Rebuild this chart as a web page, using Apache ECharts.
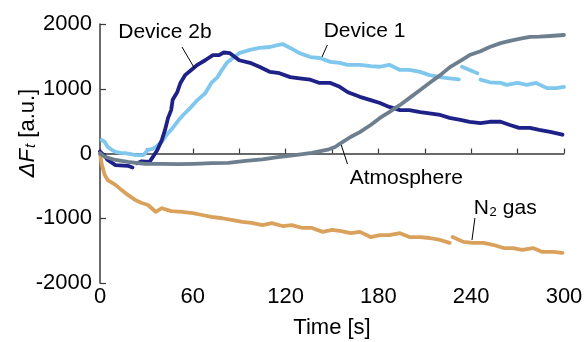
<!DOCTYPE html>
<html>
<head>
<meta charset="utf-8">
<script src="https://cdn.jsdelivr.net/npm/echarts@6/dist/echarts.min.js"></script>
<style>
  html, body { margin: 0; padding: 0; background: #fff; }
  #chart { width: 586px; height: 342px; }
</style>
</head>
<body>
<div id="chart"></div>
<script>
// tick labels
const xTicks = [0, 60, 120, 180, 240, 300]
const yTicks = [-2000, -1000, 0, 1000, 2000]

// [time s, ΔFt]; null breaks the trace
const device1 = [[1, 210], [3, 180], [5, 100], [8, 50], [10, 25], [13, 10], [16, 5], [20, -10], [23, -25], [28, -25],
  [31, 55], [34, 70], [36, 100], [40, 180], [43, 285], [47, 395], [51, 520], [55, 625], [59, 720], [63, 825],
  [68, 930], [72, 1090], [76, 1180], [78, 1260], [82, 1400], [86, 1475], [90, 1550], [97, 1600], [103, 1630],
  [110, 1645], [114, 1670], [118, 1690], [123, 1630], [129, 1550], [136, 1490], [142, 1475], [149, 1415],
  [155, 1400], [160, 1370], [168, 1370], [175, 1350], [181, 1340], [187, 1370], [194, 1290], [200, 1290],
  [207, 1260], [213, 1210], [220, 1180], [226, 1160], [232, 1145], [233, null], [234, 1340], [239, 1290],
  [244, 1240], [245, null], [246, 1140], [252, 1100], [259, 1090], [263, 1060], [270, 1090], [276, 1060],
  [282, 1090], [289, 1010], [295, 1010], [300, 1030]]

const device2b = [[0, 30], [3, -40], [5, -100], [10, -180], [18, -190], [21, -215], [22, null], [24, -150],
  [27, -120], [32, -130], [34, -60], [37, 50], [40, 210], [42, 360], [44, 550], [46, 670], [47, 830], [50, 950],
  [52, 1090], [55, 1210], [59, 1290], [63, 1370], [68, 1440], [73, 1520], [77, 1520], [80, 1560], [84, 1550],
  [90, 1440], [97, 1400], [103, 1340], [110, 1260], [116, 1240], [123, 1180], [129, 1160], [136, 1140],
  [142, 1090], [149, 1090], [155, 1030], [160, 950], [162, 930], [168, 875], [175, 825], [181, 780], [187, 720],
  [194, 670], [200, 670], [207, 640], [213, 620], [220, 595], [226, 550], [233, 520], [239, 490], [246, 470],
  [252, 490], [259, 490], [265, 440], [271, 395], [278, 395], [284, 365], [291, 335], [299, 290]]

const atmosphere = [[0, 0], [3, -50], [10, -100], [18, -130], [29, -160], [40, -160], [50, -165], [61, -160],
  [72, -150], [83, -145], [94, -115], [105, -90], [115, -55], [126, -25], [137, 10], [148, 65], [152, 100],
  [155, 150], [162, 255], [168, 330], [175, 440], [181, 550], [187, 640], [194, 750], [200, 855], [207, 980],
  [213, 1090], [220, 1210], [226, 1330], [233, 1430], [239, 1520], [246, 1580], [252, 1645], [259, 1705],
  [265, 1740], [271, 1770], [278, 1800], [284, 1805], [291, 1815], [300, 1830]]

const n2gas = [[0, 0], [1, -150], [3, -330], [5, -410], [10, -485], [14, -565], [18, -640], [23, -720],
  [27, -765], [31, -795], [36, -900], [40, -845], [46, -890], [53, -900], [60, -920], [66, -950], [72, -980],
  [79, -1000], [85, -1025], [92, -1055], [98, -1070], [105, -1105], [111, -1075], [118, -1120], [124, -1105],
  [131, -1150], [137, -1150], [144, -1210], [150, -1180], [156, -1200], [162, -1230], [168, -1210], [175, -1290],
  [181, -1260], [187, -1260], [194, -1230], [200, -1290], [207, -1290], [213, -1305], [220, -1335], [226, -1380],
  [227, null], [228, -1290], [235, -1365], [241, -1380], [248, -1380], [254, -1410], [261, -1460], [267, -1460],
  [273, -1490], [280, -1460], [286, -1520], [293, -1520], [299, -1535]]

// label text, text centre, leader line ends (data coords)
const labels = [
  {text: 'Device 2b', at: [42, 1880], from: [53, 1645], to: [61, 1320]},
  {text: 'Device 1', at: [171, 1890], from: [147, 1676], to: [143.5, 1490]},
  {text: 'Atmosphere', at: [198, -378], from: [156, 131], to: [160, -162]},
  {text: 'N\u2082 gas', at: [262, -842], from: [242.4, -996], to: [240.5, -1336]}
]

const font = "'Liberation Sans', Arial, sans-serif"
const axisColor = '#3a3a3a'

const traceSeries = (name, data, color) => ({
  name,
  type: 'line',
  data,
  showSymbol: false,
  connectNulls: false,
  animation: false,
  lineStyle: {color, width: 3.8, cap: 'round', join: 'round'}
})

const echart = echarts.init(document.getElementById('chart'), null, {renderer: 'canvas'})
echart.setOption({
  animation: false,
  textStyle: {fontFamily: font},
  grid: {left: 100, right: 22, top: 24, bottom: 59, containLabel: false, outerBoundsMode: 'none'},
  xAxis: {
    type: 'value',
    min: xTicks[0],
    max: xTicks[xTicks.length - 1],
    interval: 30,
    name: 'Time [s]',
    nameLocation: 'middle',
    nameGap: 34,
    nameTextStyle: {fontSize: 22, color: '#000', fontFamily: font},
    axisLine: {lineStyle: {color: axisColor, width: 1.5}},
    axisTick: {inside: true, length: 5, lineStyle: {color: axisColor, width: 1.2}},
    axisLabel: {
      fontSize: 22, color: '#000', margin: 3, fontFamily: font,
      formatter: (v) => (xTicks.includes(v) ? String(v) : '')
    },
    splitLine: {show: false}
  },
  yAxis: {
    type: 'value',
    min: yTicks[0],
    max: yTicks[yTicks.length - 1],
    interval: 1000,
    axisLine: {show: true, lineStyle: {color: axisColor, width: 1.5}},
    axisTick: {show: true, inside: true, length: 6, lineStyle: {color: axisColor, width: 1.2}},
    axisLabel: {fontSize: 22, color: '#000', margin: 8, fontFamily: font, formatter: (v) => String(v)},
    splitLine: {show: false}
  },
  series: [
    traceSeries('Device 1', device1, '#7fc7ec'),
    traceSeries('Device 2b', device2b, '#1e2187'),
    traceSeries('N2 gas', n2gas, '#d9a15c'),
    traceSeries('Atmosphere', atmosphere, '#6d7f8f')
  ]
})

const px = (p) => echart.convertToPixel({gridIndex: 0}, p)
const graphics = []
labels.forEach((l) => {
  const a = px(l.from)
  const b = px(l.to)
  const c = px(l.at)
  graphics.push({
    type: 'line',
    shape: {x1: a[0], y1: a[1], x2: b[0], y2: b[1]},
    style: {stroke: '#000', lineWidth: 1},
    z: 10
  })
  graphics.push({
    type: 'text',
    x: c[0],
    y: c[1],
    style: {text: l.text, font: '21px ' + font, fill: '#000', align: 'center', verticalAlign: 'middle'},
    z: 10
  })
})
// y axis title: ΔF_t [a.u.]
graphics.push({
  type: 'text',
  x: 26,
  y: 133,
  rotation: Math.PI / 2,
  style: {
    text: '{i|\u0394F}{s|t}{n| [a.u.]}',
    align: 'center',
    verticalAlign: 'middle',
    fill: '#000',
    rich: {
      i: {fontSize: 22, fontStyle: 'italic', fontFamily: font, fill: '#000', verticalAlign: 'bottom'},
      s: {fontSize: 15, fontStyle: 'italic', fontFamily: font, fill: '#000', verticalAlign: 'bottom', padding: [10, 0, 0, 1]},
      n: {fontSize: 22, fontFamily: font, fill: '#000', verticalAlign: 'bottom'}
    }
  }
})
echart.setOption({graphic: graphics})
</script>
</body>
</html>
